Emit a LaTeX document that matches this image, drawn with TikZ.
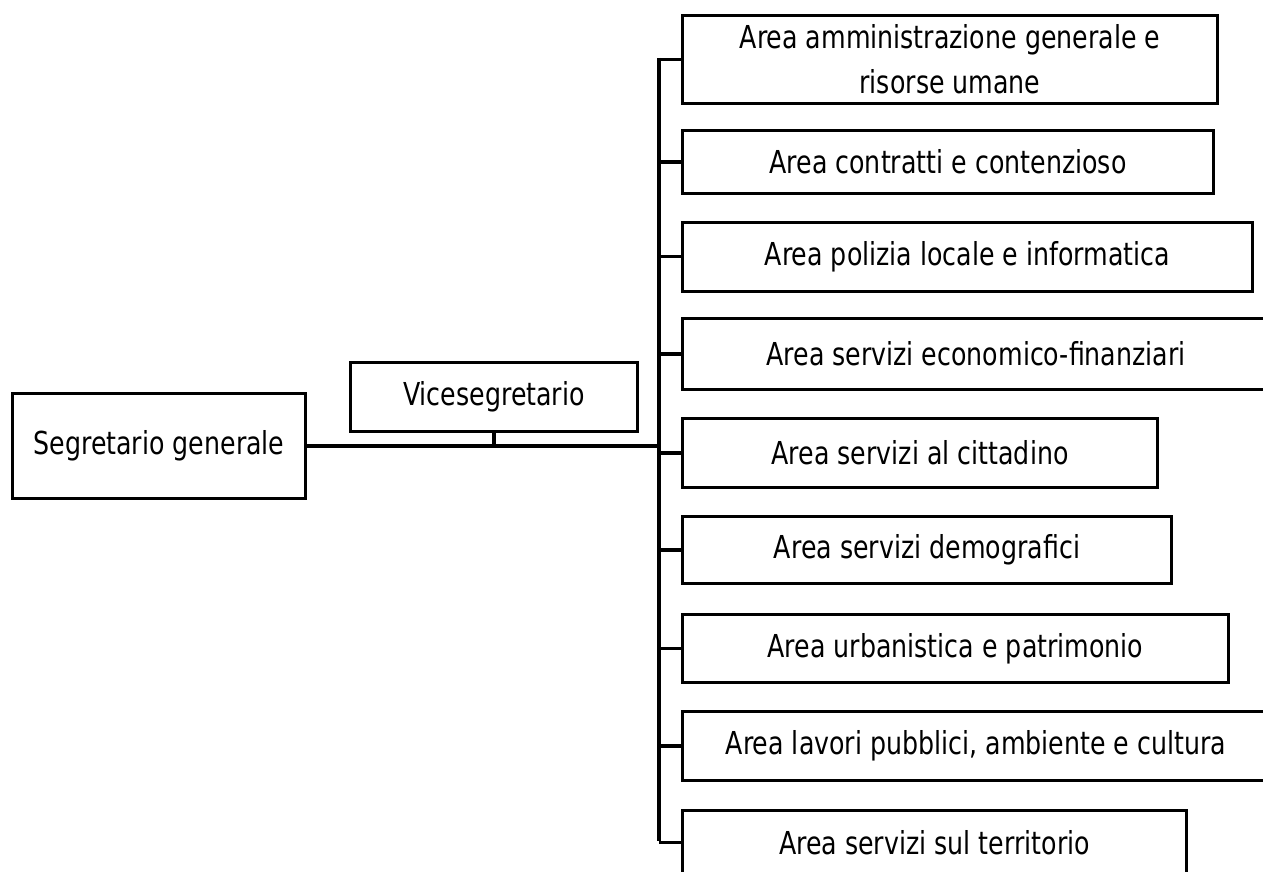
\documentclass[tikz,border=0pt]{standalone}
\usepackage{fontspec}
\setmainfont{DejaVu Sans}[FakeStretch=0.8]
\begin{document}
\begin{tikzpicture}[x=0.5pt,y=-0.5pt,
  orgbox/.style={draw=black,line width=1.5pt,rectangle,inner sep=0pt,anchor=north west,
    align=center,font=\fontsize{15.8pt}{22.5pt}\selectfont},
  link/.style={draw=black,line width=1.6pt}]
\useasboundingbox (0,0) rectangle (1263,872);
\clip (0,0) rectangle (1263,872);
\node[orgbox,minimum width=293pt*0.5,minimum height=105pt*0.5] (seg) at (11,392) {Segretario generale};
\node[orgbox,minimum width=287pt*0.5,minimum height=69pt*0.5] (vice) at (349,361) {Vicesegretario};
\node[orgbox,minimum width=535pt*0.5,minimum height=88pt*0.5] (b1) at (681,14) {Area amministrazione generale e\\risorse umane};
\node[orgbox,minimum width=531pt*0.5,minimum height=62pt*0.5] (b2) at (681,129.5) {Area contratti e contenzioso};
\node[orgbox,minimum width=570pt*0.5,minimum height=68.5pt*0.5] (b3) at (681,221) {Area polizia locale e informatica};
\node[orgbox,minimum width=587pt*0.5,minimum height=71pt*0.5] (b4) at (681,317) {Area servizi economico-finanziari};
\node[orgbox,minimum width=475pt*0.5,minimum height=69pt*0.5] (b5) at (681,417) {Area servizi al cittadino};
\node[orgbox,minimum width=489pt*0.5,minimum height=67pt*0.5] (b6) at (681,515) {Area servizi demografici};
\node[orgbox,minimum width=546pt*0.5,minimum height=68pt*0.5] (b7) at (681,613) {Area urbanistica e patrimonio};
\node[orgbox,minimum width=587pt*0.5,minimum height=69pt*0.5] (b8) at (681,710) {Area lavori pubblici, ambiente e cultura};
\node[orgbox,minimum width=504pt*0.5,minimum height=64pt*0.5] (b9) at (681,809) {Area servizi sul territorio};
\coordinate (jt) at (659,58);
\coordinate (jb) at (659,841);
\draw[link] (jt) -- (jb);
\draw[link] (seg.east) -- (seg.east -| jt);
\draw[link] (vice.south) -- (vice.south |- seg.east);
\foreach \b in {b1,b2,b3,b4,b5,b6,b7,b8,b9}{
  \draw[link] (\b.west -| jt) -- (\b.west);
}
\end{tikzpicture}
\end{document}
